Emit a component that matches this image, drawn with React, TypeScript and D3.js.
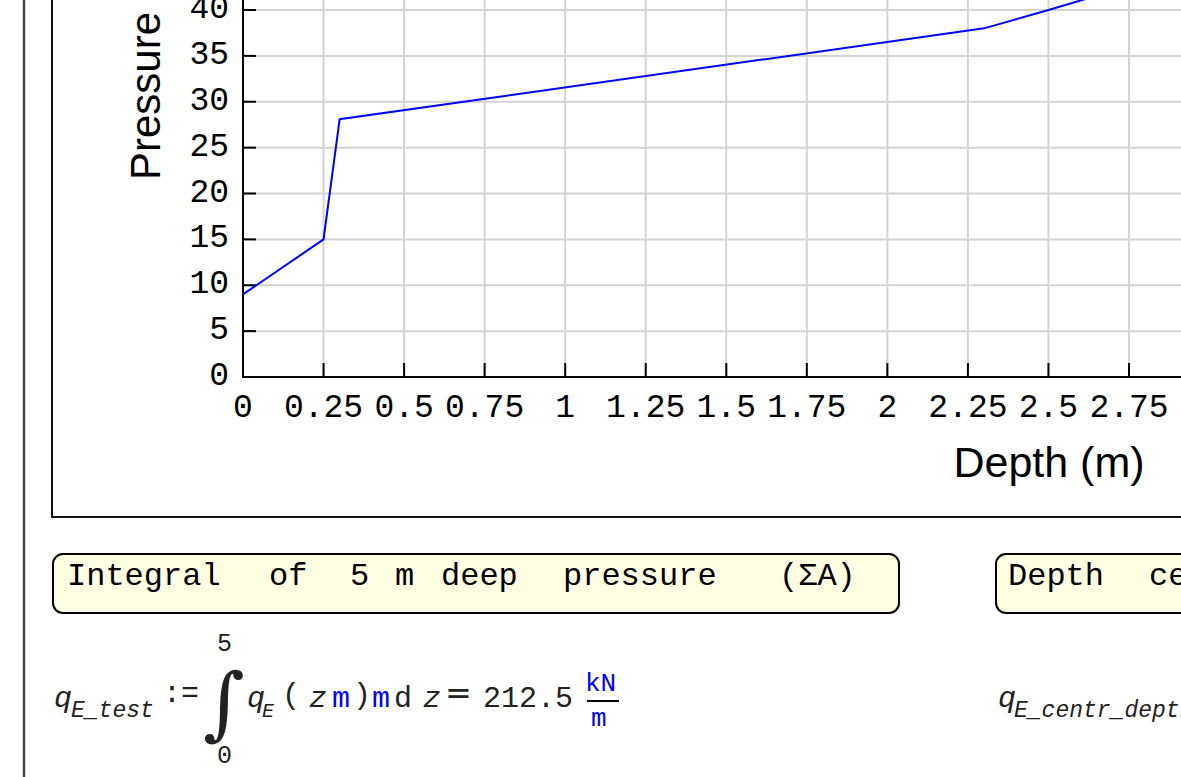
import React from "react";
import * as d3 from "d3";

// ---- data ----
const depth = [0, 0.25, 0.3, 2.3, 2.5, 2.75, 3.0];
const pressure = [9.0, 15.0, 28.1, 38.0, 40.0, 42.6, 45.2];
const xTickValues = [0, 0.25, 0.5, 0.75, 1, 1.25, 1.5, 1.75, 2, 2.25, 2.5, 2.75];
const yTickValues = [0, 5, 10, 15, 20, 25, 30, 35, 40];
const xLabel = "Depth (m)";
const yLabel = "Pressure";
const box1Words = ["Integral", "of", "5", "m", "deep", "pressure", "(ΣA)"];
const box2Words = ["Depth", "center"];

const W = 1181;
const H = 777;
const PX0 = 243;
const PY0 = 377;

const mono = "'Liberation Mono', 'Courier New', monospace";
const sans = "'Liberation Sans', Arial, sans-serif";

export default function App() {
  const x = d3.scaleLinear().domain([0, 2.75]).range([PX0, 1129]);
  const y = d3.scaleLinear().domain([0, 40]).range([PY0, 10]);
  const pts: [number, number][] = depth.map((d, i) => [d, pressure[i]]);
  const line = d3
    .line<[number, number]>()
    .x((d) => x(d[0]))
    .y((d) => y(d[1]));

  const box1X = [69, 271, 352, 397, 443, 565, 781];
  const box2X = [1010, 1151];
  const gridX = [...xTickValues, 3];
  const gridY = [...yTickValues, 45];

  return (
    <svg
      width={W}
      height={H}
      style={{ position: "absolute", left: 0, top: 0, background: "#fff" }}
    >
      <rect x={0} y={0} width={W} height={H} fill="#fff" />
      {/* outer worksheet line */}
      <line x1={24} y1={0} x2={24} y2={H} stroke="#444" strokeWidth={2.5} />
      {/* plot frame */}
      <line x1={52} y1={-5} x2={52} y2={517} stroke="#111" strokeWidth={2} />
      <line x1={51} y1={517} x2={W + 5} y2={517} stroke="#111" strokeWidth={2} />

      {/* grid */}
      {gridY.map((v) => (
        <line key={"gy" + v} x1={PX0} x2={W + 10} y1={y(v)} y2={y(v)} stroke="#d3d3d3" strokeWidth={2} />
      ))}
      {gridX.map((v) => (
        <line key={"gx" + v} x1={x(v)} x2={x(v)} y1={PY0} y2={-60} stroke="#d3d3d3" strokeWidth={2} />
      ))}
      {/* ticks */}
      {gridY.map((v) => (
        <line key={"ty" + v} x1={PX0} x2={PX0 + 13} y1={y(v)} y2={y(v)} stroke="#000" strokeWidth={2} />
      ))}
      {gridX.map((v) => (
        <line key={"tx" + v} x1={x(v)} x2={x(v)} y1={PY0} y2={PY0 - 14} stroke="#000" strokeWidth={2} />
      ))}
      {/* axes */}
      <line x1={PX0} x2={PX0} y1={PY0 + 1} y2={-60} stroke="#000" strokeWidth={2} />
      <line x1={PX0 - 1} x2={W + 10} y1={PY0} y2={PY0} stroke="#000" strokeWidth={2} />

      {/* data */}
      <path d={line(pts) || ""} fill="none" stroke="#0000ff" strokeWidth={2} />

      {/* tick labels */}
      {yTickValues.map((v) => (
        <text key={"ly" + v} x={229} y={y(v) + 8} textAnchor="end" fontFamily={mono} fontSize={33} fill="#000">
          {String(v)}
        </text>
      ))}
      {xTickValues.map((v) => (
        <text key={"lx" + v} x={x(v)} y={417} textAnchor="middle" fontFamily={mono} fontSize={33} fill="#000">
          {String(v)}
        </text>
      ))}

      {/* axis titles */}
      <text x={1049} y={477} textAnchor="middle" fontFamily={sans} fontSize={43} fill="#000">
        {xLabel}
      </text>
      <text transform="translate(160,180) rotate(-90)" textAnchor="start" fontFamily={sans} fontSize={42} fill="#000">
        {yLabel}
      </text>

      {/* region boxes */}
      <rect x={53} y={554} width={846} height={59} rx={10} ry={10} fill="#ffffe1" stroke="#000" strokeWidth={2} />
      <text fontFamily={mono} fontSize={32} fill="#000">
        {box1Words.map((w, i) => (
          <tspan key={"b1" + i} x={box1X[i] - 2} y={585}>
            {w}
          </tspan>
        ))}
      </text>
      <rect x={996} y={554} width={400} height={59} rx={10} ry={10} fill="#ffffe1" stroke="#000" strokeWidth={2} />
      <text fontFamily={mono} fontSize={32} fill="#000">
        {box2Words.map((w, i) => (
          <tspan key={"b2" + i} x={box2X[i] - 2} y={585}>
            {w}
          </tspan>
        ))}
      </text>

      {/* formula 1 */}
      <g fontFamily={mono} fill="#222">
        <text x={54} y={707} fontSize={30} fontStyle="italic">q</text>
        <text x={71} y={717} fontSize={23} fontStyle="italic">E_test</text>
        <text x={163} y={702} fontSize={30}>:=</text>
        <text x={203} y={730} fontSize={80} fontFamily="'DejaVu Serif', serif">∫</text>
        <text x={217} y={651} fontSize={25}>5</text>
        <text x={217} y={763} fontSize={25}>0</text>
        <text x={247} y={707} fontSize={30} fontStyle="italic">q</text>
        <text x={262} y={717} fontSize={20} fontStyle="italic">E</text>
        <text x={282} y={704} fontSize={30}>(</text>
        <text x={309} y={707} fontSize={30} fontStyle="italic">z</text>
        <text x={332} y={707} fontSize={30} fill="#0000ff">m</text>
        <text x={353} y={704} fontSize={30}>)</text>
        <text x={372} y={707} fontSize={30} fill="#0000ff">m</text>
        <text x={394} y={707} fontSize={30}>d</text>
        <text x={423} y={707} fontSize={30} fontStyle="italic">z</text>
        <text x={445} y={704} fontSize={32} fontFamily="'DejaVu Sans', sans-serif">=</text>
        <text x={483} y={707} fontSize={30}>212.5</text>
        <text x={585} y={691} fontSize={26} fill="#0000ff">kN</text>
        <line x1={587} x2={619} y1={701} y2={701} stroke="#000" strokeWidth={2} />
        <text x={591} y={726} fontSize={26} fill="#0000ff">m</text>
      </g>

      {/* formula 2 */}
      <g fontFamily={mono} fill="#222">
        <text x={998} y={707} fontSize={30} fontStyle="italic">q</text>
        <text x={1014} y={717} fontSize={23} fontStyle="italic">E_centr_depth</text>
      </g>
    </svg>
  );
}
